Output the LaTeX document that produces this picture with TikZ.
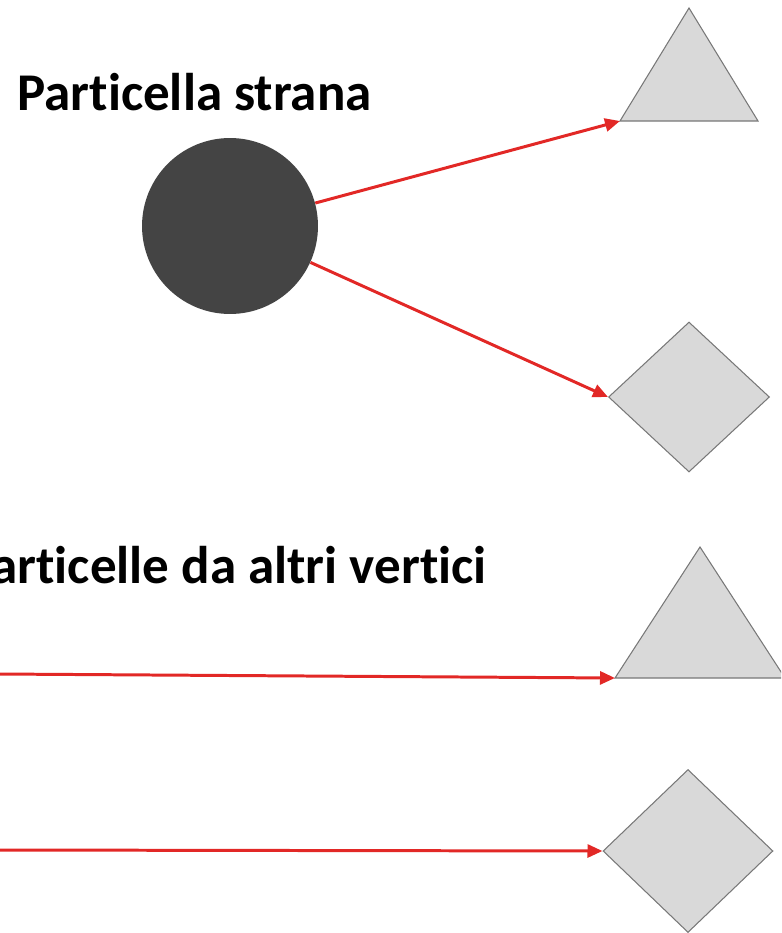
\documentclass[tikz,border=0pt]{standalone}
\usepackage{fontspec}
\setmainfont{Carlito}[Ligatures=NoCommon]
\usetikzlibrary{arrows.meta}
\usetikzlibrary{shapes.geometric}
\definecolor{rossa}{RGB}{226,40,38}
\definecolor{grigio}{RGB}{217,217,217}
\definecolor{bordo}{RGB}{120,120,120}
\definecolor{scuro}{RGB}{68,68,68}

\begin{document}
\begin{tikzpicture}[x=0.02cm,y=-0.02cm,every node/.style={inner sep=0pt},
  freccia/.style={-{Triangle[length=0.3cm,width=0.26cm]},line width=1.7pt,rossa},
  forma/.style={draw=bordo,fill=grigio,line width=0.6pt},
  testo/.style={font=\fontsize{30.2}{36}\selectfont\bfseries}]
\clip (0,0) rectangle (781,933);
% particella e decadimento
\node[circle,fill=scuro,minimum size=3.52cm] (s) at (230,226) {};
\node[testo,anchor=base west] (lab1) at (17,110) {Particella strana};
\draw[forma] (620,121) coordinate (t1) -- (689,8) -- (758,121) -- cycle;
\node[diamond,forma,minimum width=3.22cm,minimum height=3.0cm] (d1) at (689,397) {};
\draw[freccia] (s)--(t1);
\draw[freccia] (s)--(d1.west);
% particelle da altri vertici
\node[testo,anchor=base east] (lab2) at (487,583) {Particelle da altri vertici};
\draw[forma] (615,678) coordinate (t2) -- (700,547) -- (785,678) -- cycle;
\node[diamond,forma,minimum width=3.4cm,minimum height=3.26cm] (d2) at (688,851) {};
\coordinate (a3) at (-2,674);
\coordinate (a4) at (-2,850);
\draw[freccia] (a3)--(t2);
\draw[freccia] (a4)--(d2.west);
\end{tikzpicture}
\end{document}
